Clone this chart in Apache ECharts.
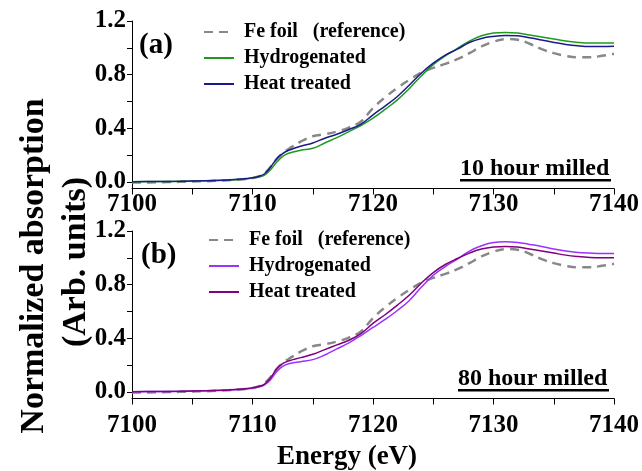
<!DOCTYPE html>
<html>
<head>
<meta charset="utf-8">
<script src="https://cdn.jsdelivr.net/npm/echarts@6/dist/echarts.min.js"></script>
<style>
html,body{margin:0;padding:0;background:#fff;}
#chart{width:642px;height:471px;}
</style>
</head>
<body>
<div id="chart"></div>
<script>
// Energy (eV)
const energy = [7100,7102,7104,7106,7108,7109,7110,7110.5,7111,7111.5,7112,7112.5,7113,7114,7115,7116,7117,7118,7119,7120,7121,7122,7123,7124,7125,7126,7127,7128,7129,7130,7131,7132,7133,7134,7135,7136,7137,7138,7139,7140];

// Fe foil reference (same in both panels)
const feFoil = [-0.005,-0.004,0.0,0.004,0.012,0.018,0.028,0.04,0.065,0.11,0.17,0.215,0.245,0.30,0.34,0.355,0.375,0.405,0.45,0.55,0.63,0.70,0.76,0.815,0.85,0.88,0.915,0.96,1.01,1.045,1.065,1.06,1.03,0.99,0.96,0.94,0.93,0.93,0.94,0.955];

// Panel (a) 10 hour milled
const hydroA = [0.0,0.002,0.004,0.007,0.013,0.018,0.028,0.035,0.05,0.09,0.145,0.19,0.213,0.235,0.25,0.29,0.33,0.375,0.42,0.475,0.54,0.61,0.695,0.79,0.875,0.94,0.995,1.05,1.09,1.11,1.115,1.11,1.095,1.08,1.065,1.05,1.04,1.035,1.035,1.035];
const heatA = [0.0,0.002,0.004,0.008,0.014,0.02,0.03,0.04,0.06,0.11,0.17,0.21,0.235,0.265,0.29,0.325,0.355,0.39,0.43,0.50,0.565,0.635,0.72,0.81,0.885,0.945,0.99,1.04,1.07,1.085,1.092,1.09,1.075,1.058,1.04,1.025,1.015,1.01,1.01,1.012];

// Panel (b) 80 hour milled
const hydroB = [0.0,0.002,0.004,0.007,0.013,0.018,0.027,0.035,0.052,0.09,0.15,0.19,0.21,0.225,0.24,0.275,0.32,0.365,0.42,0.48,0.54,0.605,0.68,0.78,0.87,0.935,0.99,1.05,1.09,1.115,1.12,1.115,1.10,1.085,1.065,1.05,1.04,1.035,1.032,1.032];
const heatB = [0.0,0.002,0.004,0.008,0.014,0.02,0.03,0.04,0.058,0.105,0.17,0.21,0.23,0.255,0.28,0.315,0.35,0.385,0.435,0.51,0.575,0.645,0.72,0.81,0.89,0.95,0.995,1.035,1.065,1.08,1.085,1.08,1.065,1.05,1.035,1.02,1.01,1.003,1.0,1.0];

const legendNames = ['Fe foil   (reference)','Hydrogenated','Heat treated'];
const panelLabels = ['(a)','(b)'];
const millLabels = ['10 hour milled','80 hour milled'];
const yLabelValues = [0,0.4,0.8,1.2];
const yTickValues = [0,0.2,0.4,0.6,0.8,1.0,1.2];
const xTickValues = [7100,7105,7110,7115,7120,7125,7130,7135,7140];
const xTitle = 'Energy (eV)';
const yTitle1 = 'Normalized absorption';
const yTitle2 = '(Arb. units)';

const FONT = 'Times New Roman';
const zip = arr => energy.map((e,i)=>[e,arr[i]]);

function xAxis(idx){
  return {
    type:'value', gridIndex:idx, min:7100, max:7140, interval:10,
    axisLine:{show:true,onZero:false,lineStyle:{color:'#000',width:1}},
    axisTick:{show:true,length:6,inside:false,customValues:xTickValues,lineStyle:{color:'#000'}},
    axisLabel:{show:true,color:'#000',fontFamily:FONT,fontWeight:'bold',fontSize:25,margin:idx===0?4:15,
      formatter:v=>String(v)},
    splitLine:{show:false}
  };
}
function yAxis(idx){
  return {
    type:'value', gridIndex:idx, min:-0.05, max:1.2,
    axisLine:{show:true,onZero:false,lineStyle:{color:'#000',width:1}},
    axisTick:{show:true,length:5,customValues:yTickValues,lineStyle:{color:'#000'}},
    axisLabel:{show:true,color:'#000',fontFamily:FONT,fontWeight:'bold',fontSize:25,margin:6,
      customValues:yLabelValues, formatter:v=>Number(v).toFixed(1)},
    splitLine:{show:false}
  };
}
const seriesNames = [['a0','a1','a2'],['b0','b1','b2']];
const nameMap = {a0:legendNames[0],a1:legendNames[1],a2:legendNames[2],b0:legendNames[0],b1:legendNames[1],b2:legendNames[2]};
function line(name, idx, data, color, width, dashed){
  return {
    name, type:'line', xAxisIndex:idx, yAxisIndex:idx, data:zip(data),
    smooth:0.4, symbol:'none', showSymbol:false,
    lineStyle:{color, width, type: dashed?[9,6]:'solid'},
    itemStyle:{color}, emphasis:{disabled:true}, silent:true, z: dashed?1:2
  };
}
function legend(idx, left, top){
  return {
    show:true, orient:'vertical', left, top, padding:0,
    data:seriesNames[idx], itemWidth:30, itemHeight:14, itemGap:6,
    selectedMode:false,
    itemStyle:{opacity:0},
    formatter:n=>nameMap[n],
    textStyle:{color:'#000',fontFamily:FONT,fontWeight:'bold',fontSize:20,lineHeight:20,padding:[0,0,0,5]}
  };
}
function milled(text, right, top){
  return {
    type:'group', right, top,
    children:[
      {type:'text', left:0, top:0, style:{text, font:'bold 24px '+FONT, fill:'#000'}},
      {type:'rect', left:0, top:22, shape:{width:151,height:2.5}, style:{fill:'#000'}}
    ]
  };
}

const option = {
  animation:false,
  backgroundColor:'#fff',
  grid:[
    {left:132, top:21, width:484, height:167.5},
    {left:132, top:231, width:484, height:167.5}
  ],
  xAxis:[xAxis(0), xAxis(1)],
  yAxis:[yAxis(0), yAxis(1)],
  legend:[legend(0,203,22), legend(1,208,230)],
  series:[
    line('a0',0,feFoil,'#888888',2.5,true),
    line('a1',0,hydroA,'#1f9a1f',1.5,false),
    line('a2',0,heatA,'#1a1a8c',1.5,false),
    line('b0',1,feFoil,'#888888',2.5,true),
    line('b1',1,hydroB,'#9a33ff',1.5,false),
    line('b2',1,heatB,'#800080',1.5,false)
  ],
  graphic:[
    {type:'text', left:139, top:31, style:{text:panelLabels[0], font:'bold 29px '+FONT, fill:'#000'}},
    {type:'text', left:141, top:241, style:{text:panelLabels[1], font:'bold 29px '+FONT, fill:'#000'}},
    milled(millLabels[0], 31, 157),
    milled(millLabels[1], 33, 367),
    {type:'text', x:347, y:457, style:{text:xTitle, font:'bold 27px '+FONT, fill:'#000', align:'center', verticalAlign:'middle'}},
    {type:'text', x:34, y:266, rotation:Math.PI/2, style:{text:yTitle1, font:'bold 34px '+FONT, fill:'#000', align:'center', verticalAlign:'middle'}},
    {type:'text', x:76, y:262, rotation:Math.PI/2, style:{text:yTitle2, font:'bold 34px '+FONT, fill:'#000', align:'center', verticalAlign:'middle'}}
  ]
};

const chart = echarts.init(document.getElementById('chart'));
chart.setOption(option);
</script>
</body>
</html>
